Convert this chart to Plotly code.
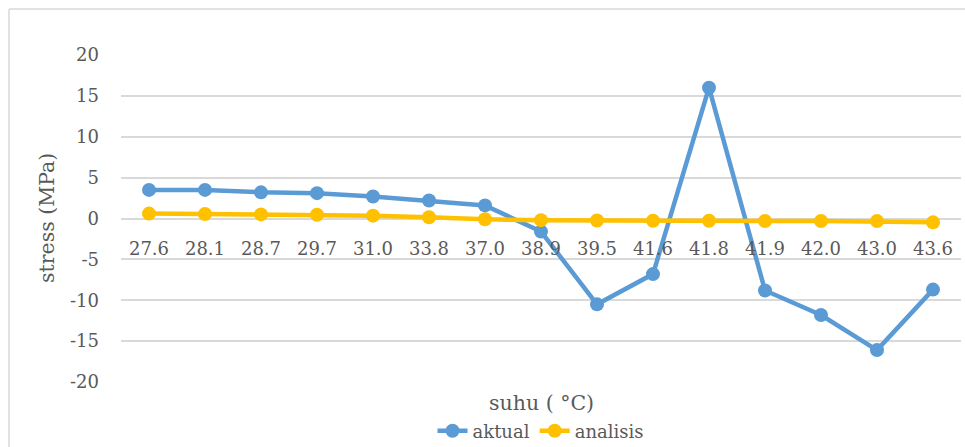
import plotly.graph_objects as go

# Temperature categories (°C) and stress readings (MPa)
suhu = ["27.6", "28.1", "28.7", "29.7", "31.0", "33.8", "37.0", "38.9",
        "39.5", "41.6", "41.8", "41.9", "42.0", "43.0", "43.6"]
aktual = [3.5, 3.5, 3.2, 3.1, 2.7, 2.2, 1.6, -1.6,
          -10.5, -6.8, 16.0, -8.8, -11.8, -16.1, -8.7]
analisis = [0.6, 0.55, 0.5, 0.45, 0.35, 0.15, -0.1, -0.2,
            -0.25, -0.27, -0.27, -0.3, -0.3, -0.32, -0.47]
y_ticks = [-20, -15, -10, -5, 0, 5, 10, 15, 20]
y_labels = [str(v) for v in y_ticks]

FONT = "DejaVu Serif"
GREY = "#595959"
GRID = "#d9d9d9"
TICK_SIZE = 18
TITLE_SIZE = 20.5

fig = go.Figure()
fig.add_trace(go.Scatter(
    x=suhu, y=aktual, name="aktual", mode="lines+markers",
    line=dict(color="#5b9bd5", width=4.5),
    marker=dict(color="#5b9bd5", size=14),
))
fig.add_trace(go.Scatter(
    x=suhu, y=analisis, name="analisis", mode="lines+markers",
    line=dict(color="#ffc000", width=4.5),
    marker=dict(color="#ffc000", size=14),
))

fig.update_layout(
    width=965, height=447,
    margin=dict(l=121, r=4, t=55, b=65, autoexpand=False),
    paper_bgcolor="white", plot_bgcolor="white",
    font=dict(family=FONT, color=GREY, size=TICK_SIZE),
    showlegend=True,
    legend=dict(orientation="h", x=0.5, xanchor="center", y=-0.150,
                yanchor="middle", font=dict(size=TICK_SIZE, color=GREY, family=FONT),
                itemwidth=30, bgcolor="rgba(0,0,0,0)"),
    xaxis=dict(
        type="category", range=[-0.5, len(suhu) - 0.5],
        anchor="free", position=0.5,
        showgrid=False, showline=False, zeroline=False,
        ticks="", ticklabelstandoff=17,
        tickfont=dict(size=TICK_SIZE, color=GREY, family=FONT),
    ),
    yaxis=dict(
        range=[-20, 20], tickvals=y_ticks, ticktext=y_labels,
        showgrid=True, gridcolor=GRID, gridwidth=1.5,
        zeroline=True, zerolinecolor=GRID, zerolinewidth=1.5,
        showline=False, ticks="", ticklabelstandoff=21,
        tickfont=dict(size=TICK_SIZE, color=GREY, family=FONT),
    ),
    annotations=[
        dict(text="stress (MPa)", xref="paper", yref="paper",
             x=(47 - 121) / 840, y=(382 - 218) / 327,
             xanchor="center", yanchor="middle", textangle=-90,
             showarrow=False, font=dict(size=TITLE_SIZE, color=GREY, family=FONT)),
        dict(text="suhu ( °C)", xref="paper", yref="paper",
             x=0.5, y=(382 - 403) / 327,
             xanchor="center", yanchor="middle",
             showarrow=False, font=dict(size=TITLE_SIZE, color=GREY, family=FONT)),
    ],
    shapes=[
        # chart area frame (top and left edges)
        dict(type="line", xref="paper", yref="paper",
             x0=(9 - 121) / 840, x1=(966 - 121) / 840,
             y0=(382 - 9) / 327, y1=(382 - 9) / 327,
             line=dict(color=GRID, width=1.5)),
        dict(type="line", xref="paper", yref="paper",
             x0=(9 - 121) / 840, x1=(9 - 121) / 840,
             y0=(382 - 9) / 327, y1=(382 - 450) / 327,
             line=dict(color=GRID, width=1.5)),
    ],
)

fig.write_html("out.html")
